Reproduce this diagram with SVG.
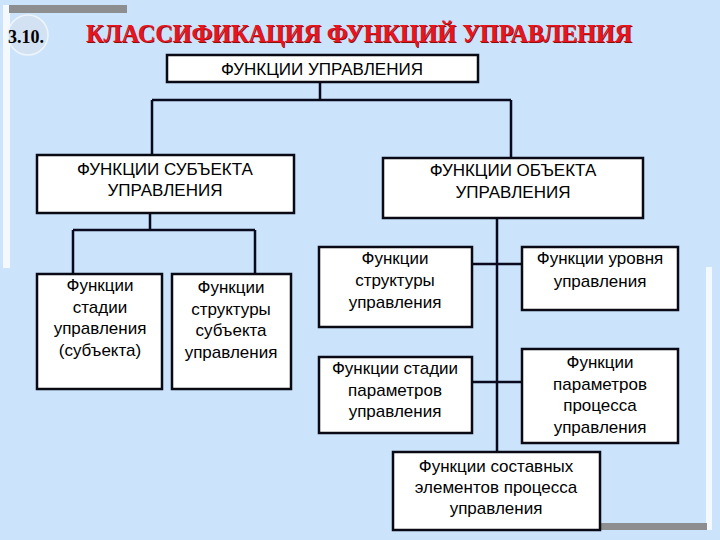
<svg xmlns="http://www.w3.org/2000/svg" width="720" height="540" viewBox="0 0 720 540">
<style>
.box{fill:#fff;stroke:#0a0a14;stroke-width:2.5}
.ln{fill:none;stroke:#0a0a1e;stroke-width:2.5}
.t{font-family:"Liberation Sans",Arial,sans-serif;font-size:17px;fill:#000;text-anchor:middle}
.ttl{font-family:"Liberation Serif","Times New Roman",serif;font-weight:bold;font-size:25px}
</style>
<rect x="0" y="0" width="720" height="540" fill="#CBE3FB"/>
<g id="decor">
<rect x="3" y="5" width="7" height="263" fill="#F4F9FE"/>
<rect x="9" y="5" width="118" height="8" fill="#8C8E90"/>
<rect x="706" y="267" width="6" height="263" fill="#F4F9FE"/>
<rect x="600" y="523" width="107" height="7" fill="#8C8E90"/>
<circle cx="28" cy="35" r="20" fill="#D2E2F2" stroke="#EEF5FC" stroke-width="1.5"/>
</g>
<g id="title">
<text x="8" y="43" font-family="Liberation Serif,'Times New Roman',serif" font-weight="bold" font-size="18" fill="#000">3.10.</text>
<text class="ttl" x="87" y="43" fill="#8a1010" textLength="546" lengthAdjust="spacingAndGlyphs">КЛАССИФИКАЦИЯ ФУНКЦИЙ УПРАВЛЕНИЯ</text>
<text class="ttl" x="86" y="42" fill="#E8141E" textLength="546" lengthAdjust="spacingAndGlyphs">КЛАССИФИКАЦИЯ ФУНКЦИЙ УПРАВЛЕНИЯ</text>
</g>
<g id="connectors">
<path class="ln" d="M320 82V100M152 100H511M152 100V155M511 100V158"/>
<path class="ln" d="M150 213V230M73 230H255M73 230V274M255 230V274"/>
<path class="ln" d="M497 218V452M472 264H522M472 382H522"/>
</g>
<g id="n-root">
<rect class="box" x="167" y="55" width="311" height="27"/>
<text class="t" x="322" y="75">ФУНКЦИИ УПРАВЛЕНИЯ</text>
</g>
<g id="n-subject">
<rect class="box" x="37" y="155" width="257" height="58"/>
<text class="t" x="165" y="175">ФУНКЦИИ СУБЪЕКТА</text>
<text class="t" x="165" y="196">УПРАВЛЕНИЯ</text>
</g>
<g id="n-object">
<rect class="box" x="383" y="158" width="260" height="60"/>
<text class="t" x="513" y="176">ФУНКЦИИ ОБЪЕКТА</text>
<text class="t" x="513" y="198">УПРАВЛЕНИЯ</text>
</g>
<g id="n-stage-subj">
<rect class="box" x="37" y="274" width="125" height="115"/>
<text class="t" x="100" y="291">Функции</text>
<text class="t" x="100" y="313">стадии</text>
<text class="t" x="100" y="334">управления</text>
<text class="t" x="100" y="356">(субъекта)</text>
</g>
<g id="n-struct-subj">
<rect class="box" x="172" y="274" width="119" height="115"/>
<text class="t" x="231" y="293">Функции</text>
<text class="t" x="231" y="315">структуры</text>
<text class="t" x="231" y="336">субъекта</text>
<text class="t" x="231" y="358">управления</text>
</g>
<g id="n-struct">
<rect class="box" x="319" y="247" width="153" height="80"/>
<text class="t" x="395" y="264">Функции</text>
<text class="t" x="395" y="286">структуры</text>
<text class="t" x="395" y="308">управления</text>
</g>
<g id="n-level">
<rect class="box" x="522" y="247" width="156" height="63"/>
<text class="t" x="600" y="264">Функции уровня</text>
<text class="t" x="600" y="287">управления</text>
</g>
<g id="n-stage-param">
<rect class="box" x="319" y="357" width="153" height="76"/>
<text class="t" x="395" y="374">Функции стадии</text>
<text class="t" x="395" y="396">параметров</text>
<text class="t" x="395" y="417">управления</text>
</g>
<g id="n-param-proc">
<rect class="box" x="522" y="349" width="156" height="94"/>
<text class="t" x="600" y="368">Функции</text>
<text class="t" x="600" y="390">параметров</text>
<text class="t" x="600" y="411">процесса</text>
<text class="t" x="600" y="433">управления</text>
</g>
<g id="n-elements">
<rect class="box" x="393" y="452" width="207" height="78"/>
<text class="t" x="496" y="472">Функции составных</text>
<text class="t" x="496" y="493">элементов процесса</text>
<text class="t" x="496" y="514">управления</text>
</g>
</svg>
